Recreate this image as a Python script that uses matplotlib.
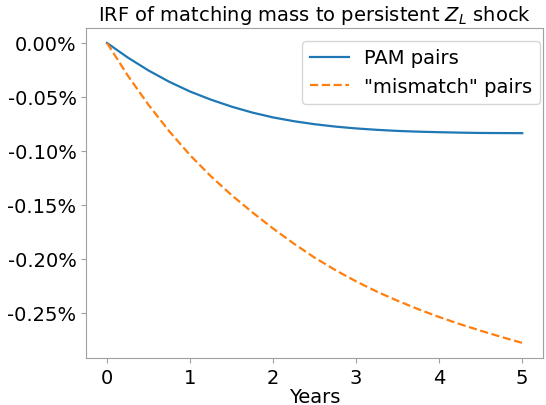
import matplotlib
matplotlib.use("Agg")
import matplotlib.pyplot as plt
from matplotlib.ticker import FuncFormatter

years = [0, 0.25, 0.5, 0.75, 1, 1.25, 1.5, 1.75, 2, 2.25, 2.5, 2.75, 3,
         3.25, 3.5, 3.75, 4, 4.25, 4.5, 4.75, 5]
pam_pairs = [0, -0.0135, -0.0255, -0.036, -0.0450, -0.0525, -0.059, -0.0645,
             -0.069, -0.0725, -0.0753, -0.0775, -0.0792, -0.0805, -0.0815,
             -0.0822, -0.0827, -0.0831, -0.0834, -0.0835, -0.0836]
mismatch_pairs = [0, -0.0302, -0.0574, -0.0819, -0.1040, -0.1235, -0.1410,
                  -0.1570, -0.1720, -0.1860, -0.1990, -0.2105, -0.2210,
                  -0.2305, -0.2390, -0.2468, -0.2540, -0.2606, -0.2667,
                  -0.2725, -0.2780]

plt.rcParams['font.size'] = 14
fig = plt.figure(figsize=(5.46, 4.06), dpi=100)
ax = fig.add_axes([0.158, 0.116, 0.8365, 0.8126])

ax.plot(years, pam_pairs, color='#1f77b4', lw=1.6, label='PAM pairs')
ax.plot(years, mismatch_pairs, color='#ff7f0e', lw=1.6, ls='--', label='"mismatch" pairs')

def pct(v, pos):
    if abs(v) < 1e-12:
        v = 0.0
    return f"{v:.2f}%"

ax.yaxis.set_major_formatter(FuncFormatter(pct))
ax.set_xticks([0, 1, 2, 3, 4, 5])
ax.set_xlabel('Years', labelpad=0)
ax.set_title('IRF of matching mass to persistent $Z_L$ shock', fontsize=14)

for s in ax.spines.values():
    s.set_color('#a0a0a0')
ax.tick_params(colors='#a0a0a0', labelcolor='black')

ax.legend(loc='upper right', fontsize=14, bbox_to_anchor=(1.015, 0.991))

fig.savefig('out.png', dpi=100)
